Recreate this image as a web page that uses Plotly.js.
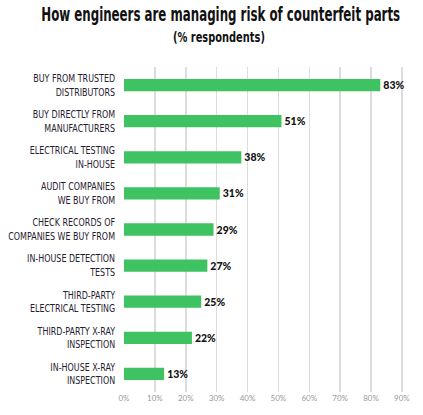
<!DOCTYPE html>
<html>
<head>
<meta charset="utf-8">
<script src="https://cdn.plot.ly/plotly-3.0.1.min.js"></script>
<style>
html,body{margin:0;padding:0;background:#fff;}
#chart{width:423px;height:415px;}
</style>
</head>
<body>
<div id="chart"></div>
<script>
const categories = [
  "BUY FROM TRUSTED<br>DISTRIBUTORS",
  "BUY DIRECTLY FROM<br>MANUFACTURERS",
  "ELECTRICAL TESTING<br>IN-HOUSE",
  "AUDIT COMPANIES<br>WE BUY FROM",
  "CHECK RECORDS OF<br>COMPANIES WE BUY FROM",
  "IN-HOUSE DETECTION<br>TESTS",
  "THIRD-PARTY<br>ELECTRICAL TESTING",
  "THIRD-PARTY X-RAY<br>INSPECTION",
  "IN-HOUSE X-RAY<br>INSPECTION"
];
const values = [83, 51, 38, 31, 29, 27, 25, 22, 13];
const tickValues = [0, 10, 20, 30, 40, 50, 60, 70, 80, 90];
const tickLabels = ["0%", "10%", "20%", "30%", "40%", "50%", "60%", "70%", "80%", "90%"];
const titleText = "How engineers are managing risk of counterfeit parts";
const subtitleText = "(% respondents)";

const trace = {
  type: "bar",
  orientation: "h",
  x: values,
  y: categories,
  marker: {color: "#3ec262"},
  texttemplate: "%{x}%",
  textposition: "outside",
  cliponaxis: false,
  textfont: {family: "Lato, 'DejaVu Sans', sans-serif", size: 10.5, color: "#111", weight: 900},
  hoverinfo: "none"
};

const headFont = "'DejaVu Sans', sans-serif";
const layout = {
  width: 423, height: 415,
  margin: {l: 124, r: 18, t: 67, b: 23},
  paper_bgcolor: "#fff", plot_bgcolor: "#fff",
  bargap: 0.66,
  showlegend: false,
  xaxis: {
    range: [0, 91],
    tickvals: tickValues,
    ticktext: tickLabels,
    showgrid: true,
    gridcolor: "#dcdcdc",
    gridwidth: 1.5,
    zeroline: false,
    showline: false,
    ticks: "",
    tickfont: {family: "Lato, sans-serif", size: 8, color: "#9a9a9a"},
    fixedrange: true
  },
  yaxis: {
    autorange: "reversed",
    showgrid: false,
    zeroline: false,
    showline: false,
    ticks: "",
    ticklabelstandoff: 8,
    tickfont: {family: headFont, size: 10.5, color: "#1f2130"},
    fixedrange: true
  },
  annotations: [
    {text: titleText, xref: "paper", yref: "paper", x: 220, y: 14, showarrow: false, w: 359,
     font: {family: headFont, size: 19, color: "#111", weight: 700}},
    {text: subtitleText, xref: "paper", yref: "paper", x: 219, y: 37, showarrow: false, w: 92,
     font: {family: headFont, size: 13.5, color: "#111", weight: 700}}
  ]
};
// convert pixel positions of the headings into paper coordinates
const pw = 423 - 124 - 18, ph = 415 - 67 - 23;
const headWidths = layout.annotations.map(a => a.w);
layout.annotations.forEach(a => {
  delete a.w;
  a.x = (a.x - 124) / pw;
  a.y = 1 + (67 - a.y) / ph;
  a.xanchor = "center"; a.yanchor = "middle";
});

function squeeze(el, s, ox) {
  const t = el.getAttribute("transform") || "";
  el.setAttribute("transform", t + ` translate(${ox},0) scale(${s},1) translate(${-ox},0)`);
}

Plotly.newPlot("chart", [trace], layout, {displayModeBar: false, staticPlot: true}).then(gd => {
  // narrow (condensed) look for category labels: widest label ~107px
  const labels = Array.from(gd.querySelectorAll(".ytick text"));
  let maxW = 0;
  labels.forEach(el => { maxW = Math.max(maxW, el.getBBox().width); });
  const s = 107 / maxW;
  labels.forEach(el => { const b = el.getBBox(); squeeze(el, s, b.x + b.width); });
  // condensed headings
  Array.from(gd.querySelectorAll(".annotation-text")).forEach((el, i) => {
    const b = el.getBBox();
    squeeze(el, headWidths[i] / b.width, b.x + b.width / 2);
  });
});
</script>
</body>
</html>
